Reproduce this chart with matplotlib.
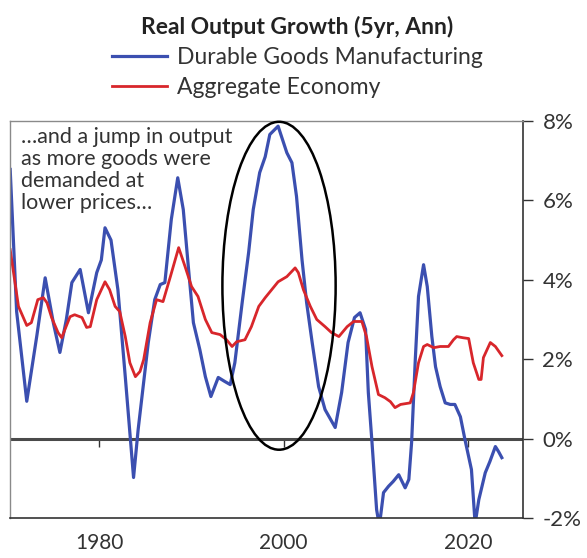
"""
Real output growth: durable goods manufacturing vs aggregate economy
"""
import matplotlib
matplotlib.use("Agg")
import matplotlib.pyplot as plt
from matplotlib.patches import Ellipse

plt.rcParams['font.family'] = ['Lato', 'DejaVu Sans']

# Durable goods manufacturing, 5yr annualised real output growth (%)
durable_years = [1970.3, 1971.0, 1972.1, 1973.2, 1974.1, 1975.0, 1975.7, 1976.4,
                 1977.0, 1977.9, 1978.8, 1979.7, 1980.2, 1980.6, 1981.25, 1982.0,
                 1982.8, 1983.7, 1984.2, 1985.3, 1986.0, 1986.6, 1987.1, 1987.8,
                 1988.5, 1989.1, 1989.65, 1990.2, 1990.9, 1991.5, 1992.1, 1992.9,
                 1993.6, 1994.2, 1994.7, 1995.5, 1996.2, 1996.7, 1997.4, 1998.0,
                 1998.5, 1999.4, 2000.35, 2000.9, 2001.4, 2002.0, 2002.5, 2003.1,
                 2003.8, 2004.5, 2005.6, 2006.3, 2007.0, 2007.7, 2008.3, 2008.9,
                 2009.2, 2009.6, 2010.1, 2010.4, 2010.85, 2011.4, 2011.9, 2012.5,
                 2013.2, 2013.6, 2013.9, 2014.3, 2014.65, 2015.2, 2015.6, 2016.1,
                 2016.5, 2017.0, 2017.55, 2018.1, 2018.6, 2019.2, 2019.7, 2020.4,
                 2020.8, 2021.2, 2021.9, 2022.4, 2023.0, 2023.35, 2023.7]
durable_growth = [6.78, 3.2, 0.94, 2.6, 4.05, 2.9, 2.17, 3.0,
                  3.93, 4.26, 3.17, 4.18, 4.5, 5.31, 5.0, 3.75,
                  1.56, -0.98, 0.23, 2.42, 3.5, 3.88, 3.93, 5.52,
                  6.57, 5.77, 4.33, 2.92, 2.24, 1.56, 1.06, 1.54,
                  1.44, 1.36, 1.91, 3.43, 4.69, 5.77, 6.70, 7.10,
                  7.66, 7.87, 7.2, 6.95, 6.1, 4.5, 3.42, 2.42,
                  1.31, 0.73, 0.28, 1.16, 2.42, 3.05, 3.17, 2.75,
                  1.16, -0.1, -1.79, -2.2, -1.36, -1.2, -1.08, -0.91,
                  -1.24, -1.03, -0.1, 1.99, 3.58, 4.38, 3.83, 2.57,
                  1.81, 1.31, 0.9, 0.86, 0.86, 0.55, -0.03, -0.78,
                  -2.15, -1.54, -0.86, -0.58, -0.2, -0.33, -0.48]

# Aggregate economy, 5yr annualised real output growth (%)
aggregate_years = [1970.3, 1971.2, 1972.1, 1972.6, 1973.3, 1973.9, 1974.3, 1974.8,
                   1975.5, 1975.9, 1976.25, 1976.8, 1977.3, 1978.1, 1978.6, 1979.0,
                   1979.7, 1980.6, 1981.1, 1981.7, 1982.2, 1982.8, 1983.3, 1983.9,
                   1984.4, 1984.8, 1985.5, 1986.2, 1986.9, 1987.7, 1988.6, 1989.3,
                   1990.0, 1990.7, 1991.5, 1992.2, 1993.1, 1993.8, 1994.4, 1994.9,
                   1995.8, 1996.5, 1997.3, 1998.0, 1998.7, 1999.4, 2000.35, 2001.25,
                   2001.6, 2002.15, 2002.9, 2003.6, 2004.5, 2005.2, 2006.0, 2006.9,
                   2007.6, 2008.5, 2009.0, 2009.6, 2010.3, 2011.0, 2011.6, 2012.1,
                   2012.7, 2013.75, 2014.1, 2014.65, 2015.2, 2015.6, 2016.3, 2017.0,
                   2017.9, 2018.45, 2018.8, 2019.5, 2020.1, 2020.6, 2021.2, 2021.45,
                   2021.7, 2022.45, 2023.0, 2023.7]
aggregate_growth = [4.76, 3.33, 2.85, 2.92, 3.5, 3.55, 3.42, 3.05,
                    2.67, 2.54, 2.75, 3.07, 3.12, 3.05, 2.8, 2.82,
                    3.5, 3.95, 3.75, 3.33, 3.2, 2.57, 1.91, 1.56,
                    1.69, 1.99, 2.92, 3.5, 3.45, 4.08, 4.81, 4.33,
                    3.83, 3.58, 3.0, 2.67, 2.62, 2.49, 2.32, 2.44,
                    2.49, 2.82, 3.33, 3.55, 3.75, 3.95, 4.08, 4.3,
                    4.18, 3.75, 3.33, 3.0, 2.82, 2.67, 2.57, 2.82,
                    2.95, 2.95, 2.57, 1.81, 1.11, 1.03, 0.93, 0.78,
                    0.86, 0.9, 1.16, 1.91, 2.32, 2.37, 2.29, 2.32,
                    2.32, 2.49, 2.57, 2.54, 2.52, 1.91, 1.49, 1.49,
                    2.04, 2.42, 2.32, 2.09]

x_ticks = [1980, 2000, 2020]
y_ticks = [-2, 0, 2, 4, 6, 8]
y_tick_labels = ['-2%', '0%', '2%', '4%', '6%', '8%']

BLUE = '#3b4fb0'
RED = '#d8262b'
TEXT = '#333333'


def main():
    fig = plt.figure(figsize=(5.87, 5.58), dpi=100)
    ax = fig.add_axes([10 / 587, 40 / 558, 513 / 587, 397 / 558])

    ax.plot(durable_years, durable_growth, color=BLUE, lw=2.3,
            label='Durable Goods Manufacturing', solid_joinstyle='round')
    ax.plot(aggregate_years, aggregate_growth, color=RED, lw=2.0,
            label='Aggregate Economy', solid_joinstyle='round')

    ax.set_xlim(1970.28, 2026.0)
    ax.set_ylim(-2, 8)

    # zero line
    ax.axhline(0, color='#4a4a4a', lw=2.2, zorder=1.5)

    # spines
    for side in ['left', 'top']:
        ax.spines[side].set_color('#8a8a8a')
        ax.spines[side].set_linewidth(1.0)
    for side in ['right', 'bottom']:
        ax.spines[side].set_color('#333333')
        ax.spines[side].set_linewidth(1.2)

    # y axis on the right
    ax.yaxis.tick_right()
    ax.set_yticks(y_ticks)
    ax.set_yticklabels(y_tick_labels)
    ax.tick_params(axis='y', direction='out', length=7, width=1.0,
                   color='#333333', labelsize=16, labelcolor=TEXT, pad=7)

    # x labels at the bottom, tick marks hanging off the zero line
    ax.set_xticks(x_ticks)
    ax.set_xticklabels([str(t) for t in x_ticks])
    ax.tick_params(axis='x', length=0, labelsize=15, labelcolor=TEXT, pad=11)
    sec = ax.secondary_xaxis(0.2)
    sec.set_xticks(x_ticks)
    sec.set_xticklabels([])
    sec.spines['bottom'].set_visible(False)
    sec.tick_params(axis='x', direction='out', length=6, width=1.0, color='#333333')

    # highlight ellipse around the late-90s boom
    ell = Ellipse((1999.5, 3.85), width=12.3, height=8.26, fill=False,
                  edgecolor='black', lw=1.8, clip_on=False, zorder=4)
    ax.add_patch(ell)

    ax.text(0.022, 0.985,
            '\u2026and a jump in output\nas more goods were\ndemanded at\nlower prices\u2026',
            transform=ax.transAxes, ha='left', va='top', fontsize=15.5,
            color=TEXT, linespacing=1.13)

    leg = ax.legend(loc='lower center', bbox_to_anchor=(0.56, 1.058),
                    frameon=False, fontsize=16.5, handlelength=2.4,
                    handletextpad=0.45, labelspacing=0.4, borderaxespad=0,
                    borderpad=0, title='Real Output Growth (5yr, Ann)',
                    title_fontproperties={'weight': 'bold', 'size': 16.5})
    for t in leg.get_texts():
        t.set_color(TEXT)
    leg.get_title().set_color('#222222')

    fig.savefig('out.png', dpi=100)


if __name__ == "__main__":
    main()
